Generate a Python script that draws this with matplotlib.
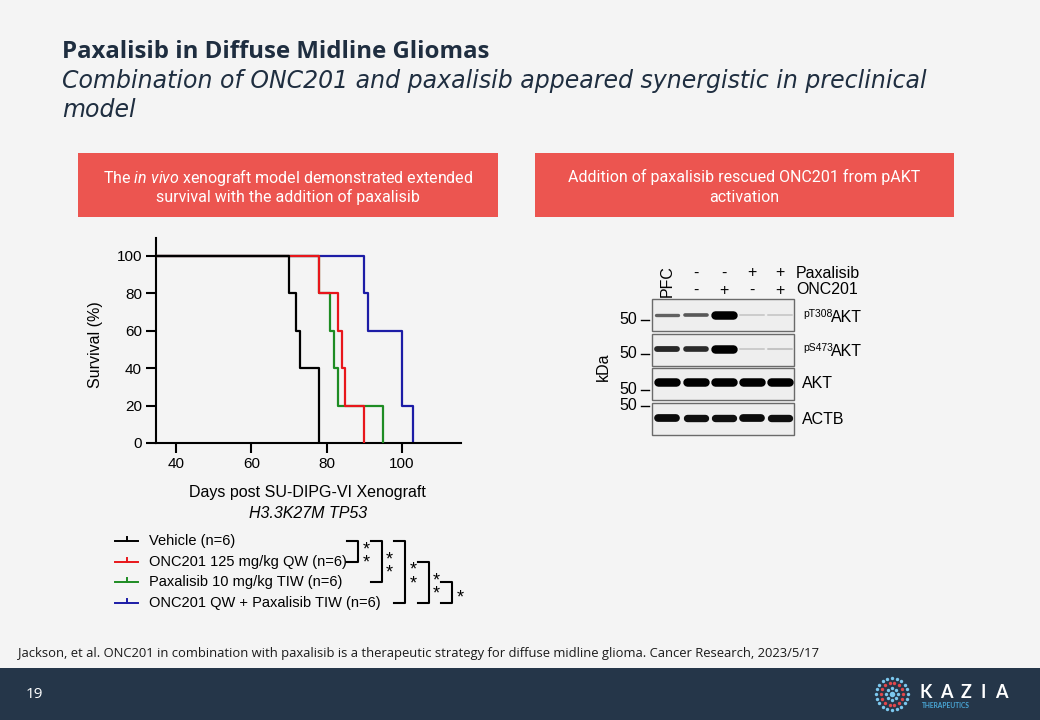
import numpy as np
import matplotlib
matplotlib.use('Agg')
import matplotlib.pyplot as plt
from matplotlib.patches import Rectangle

# Kaplan-Meier curves (day, % surviving)
groups = ['Vehicle (n=6)', 'ONC201 125 mg/kg QW (n=6)',
          'Paxalisib 10 mg/kg TIW (n=6)', 'ONC201 QW + Paxalisib TIW (n=6)']
colors = ['black', '#e8161b', '#1e8c23', '#1c1ca6']
days_vehicle = [0, 70, 72, 73, 78]
surv_vehicle = [100, 80, 60, 40, 0]
days_onc = [0, 78, 83, 84, 85, 90]
surv_onc = [100, 80, 60, 40, 20, 0]
days_pax = [0, 78, 81, 82, 83, 95]
surv_pax = [100, 80, 60, 40, 20, 0]
days_combo = [0, 90, 91, 100, 103]
surv_combo = [100, 80, 60, 20, 0]
xticks = [40, 60, 80, 100]
yticks = [0, 20, 40, 60, 80, 100]

# log-rank comparisons: (group a, group b, number of stars)
comparisons = [(0, 1, 2), (0, 2, 2), (0, 3, 2), (1, 3, 2), (2, 3, 1)]

# western blot
lane_names = ['PFC', '', '', '', '']
pax_row = ['', '-', '-', '+', '+']
onc_row = ['', '-', '+', '-', '+']
blot_rows = [('pT308', 'AKT'), ('pS473', 'AKT'), ('', 'AKT'), ('', 'ACTB')]
band_intensity = [
    [0.35, 0.40, 1.00, 0.02, 0.02],
    [0.70, 0.68, 1.00, 0.02, 0.03],
    [1.00, 1.00, 1.00, 1.00, 1.00],
    [0.92, 0.88, 0.88, 0.92, 0.88],
]

BG = '#f4f4f4'
NAVY = '#1f2e40'
RED = '#ec5550'

plt.rcParams['font.family'] = ['Liberation Sans', 'DejaVu Sans']
plt.rcParams['mathtext.fontset'] = 'custom'
plt.rcParams['mathtext.rm'] = 'Roboto'
plt.rcParams['mathtext.it'] = 'Roboto:italic'

fig = plt.figure(figsize=(10.4, 7.2), dpi=100, facecolor=BG)
bg = fig.add_axes([0, 0, 1, 1])
bg.set_xlim(0, 1040)
bg.set_ylim(720, 0)
bg.axis('off')
bg.patch.set_alpha(0)

title_font = ['Open Sans', 'DejaVu Sans']
sub_font = ['DejaVu Sans']
slide_font = ['Open Sans', 'DejaVu Sans']
box_font = ['Roboto', 'DejaVu Sans']

# header
bg.text(62, 58, 'Paxalisib in Diffuse Midline Gliomas', fontsize=17.3, fontweight='bold',
        color=NAVY, family=title_font, va='baseline')
bg.text(62, 88, 'Combination of ONC201 and paxalisib appeared synergistic in preclinical',
        fontsize=17, style='italic', color=NAVY, family=sub_font, va='baseline')
bg.text(62, 117, 'model', fontsize=17, style='italic', color=NAVY, family=sub_font, va='baseline')

# red boxes
bg.add_patch(Rectangle((78, 153), 420, 64, color=RED, lw=0))
bg.add_patch(Rectangle((535, 153), 419, 64, color=RED, lw=0))
bg.text(288, 177, r'The $\mathit{in\ vivo}$ xenograft model demonstrated extended',
        color='white', fontsize=11.5, family=box_font, ha='center', va='center')
bg.text(288, 197, 'survival with the addition of paxalisib',
        color='white', fontsize=11.5, family=box_font, ha='center', va='center')
bg.text(744, 177, 'Addition of paxalisib rescued ONC201 from pAKT',
        color='white', fontsize=11.5, family=box_font, ha='center', va='center')
bg.text(744, 197, 'activation', color='white', fontsize=11.5, family=box_font,
        ha='center', va='center')

# survival plot
ax = fig.add_axes([156 / 1040, (720 - 443) / 720, (461 - 156) / 1040, (443 - 238) / 720])
ax.patch.set_alpha(0)
curves = [(days_vehicle, surv_vehicle), (days_onc, surv_onc),
          (days_pax, surv_pax), (days_combo, surv_combo)]
for k in [3, 2, 1, 0]:
    d, s = curves[k]
    ax.step(d, s, where='post', color=colors[k], lw=1.6, zorder=5 - k)
ax.set_xlim(34.7, 115.7)
ax.set_ylim(0, 109.4)
ax.set_xticks(xticks)
ax.set_yticks(yticks)
for side in ['top', 'right']:
    ax.spines[side].set_visible(False)
for side in ['left', 'bottom']:
    ax.spines[side].set_linewidth(1.5)
ax.tick_params(length=7, width=1.5, labelsize=11, pad=3)
ax.set_ylabel('Survival (%)', fontsize=11.5)
ax.yaxis.set_label_coords(-0.174, 0.478)
bg.text(307, 493, 'Days post SU-DIPG-VI Xenograft', fontsize=11.5, ha='center', va='center')
bg.text(308, 513, 'H3.3K27M TP53', fontsize=11.5, style='italic', ha='center', va='center')

# legend drawn by hand, like the GraphPad export
leg_y = [541, 562, 582, 603]
for k, name in enumerate(groups):
    y = leg_y[k]
    bg.plot([115, 138], [y, y], color=colors[k], lw=1.4)
    bg.plot([127, 127], [y, y - 4], color=colors[k], lw=1.4)
    bg.text(149, y, name, fontsize=10.5, va='center')

for n, (a, b, stars) in enumerate(comparisons):
    xv = 358 + 23.5 * n
    ya, yb = leg_y[a], leg_y[b]
    bg.plot([xv - 11, xv, xv, xv - 11], [ya, ya, yb, yb], color='black', lw=1.5)
    mid = (ya + yb) / 2
    bg.text(xv + 8, mid + 5, '\n'.join(['*'] * stars), fontsize=13, ha='center',
            va='center', linespacing=0.75)

# western blot
lane_x = [667, 696, 724, 752, 780]
panel_top = [299, 334, 368, 403]
panel_h = 32
band_y = [315, 349, 382, 418]
for r in range(4):
    bg.add_patch(Rectangle((652, panel_top[r]), 142, panel_h, facecolor='#eeeeee',
                           edgecolor='#6a6a6a', lw=1))
    for j, x in enumerate(lane_x):
        inten = band_intensity[r][j]
        th = 2 + 6.5 * inten ** 1.5
        half = 13 - th / 2
        bg.plot([x - half, x + half], [band_y[r], band_y[r]], color='black',
                alpha=inten ** 0.5, lw=th * 0.72, solid_capstyle='round')
    sup, name = blot_rows[r]
    if sup:
        bg.text(803, band_y[r] - 1, sup, fontsize=7.5, va='center')
        bg.text(831, band_y[r] + 2, name, fontsize=11.5, va='center')
    else:
        bg.text(802, band_y[r] + 2, name, fontsize=11.5, va='center')

for j, x in enumerate(lane_x):
    if lane_names[j]:
        bg.text(x, 297, lane_names[j], rotation=90, fontsize=11.5, ha='center', va='bottom')
    bg.text(x, 273, pax_row[j], fontsize=11.5, ha='center', va='center')
    bg.text(x, 290, onc_row[j], fontsize=11.5, ha='center', va='center')
bg.text(796, 273, 'Paxalisib', fontsize=11.5, va='center')
bg.text(796, 290, 'ONC201', fontsize=11.5, va='center')

for y in [320, 354, 390, 406]:
    bg.text(637, y, '50', fontsize=11.5, ha='right', va='center')
    bg.plot([641, 649], [y, y], color='black', lw=1)
bg.text(603, 367, 'kDa', rotation=90, fontsize=11.5, ha='center', va='center')

# citation and footer
bg.text(18, 653, 'Jackson, et al. ONC201 in combination with paxalisib is a therapeutic strategy '
        'for diffuse midline glioma. Cancer Research, 2023/5/17',
        fontsize=9.4, color='#1a1a1a', family=slide_font, va='center')
bg.add_patch(Rectangle((0, 668), 1040, 52, color='#253649', lw=0))
bg.text(26, 695, '19', fontsize=11, color='white', family=slide_font, va='center')

# logo
cx, cy = 892, 694
for rad, cnt, col, size in [(16, 20, '#7cc8ef', 6), (11, 14, '#e2484c', 6),
                            (6, 8, '#7cc8ef', 6), (0, 1, '#7cc8ef', 16)]:
    ang = np.linspace(0, 2 * np.pi, cnt, endpoint=False)
    bg.scatter(cx + rad * np.cos(ang), cy + rad * np.sin(ang), s=size, color=col, lw=0)
for letter, x in zip('KAZIA', [926, 946, 966, 983, 1001]):
    bg.text(x, 693, letter, fontsize=13, fontweight='bold', color='white',
            family=['Lato', 'DejaVu Sans'], ha='center', va='center')
bg.text(922, 706, 'THERAPEUTICS', fontsize=4.8, color='#4aa8d8', fontweight='bold',
        family=['Lato', 'DejaVu Sans'], va='center')

fig.savefig('out.png', dpi=100, facecolor=BG)
